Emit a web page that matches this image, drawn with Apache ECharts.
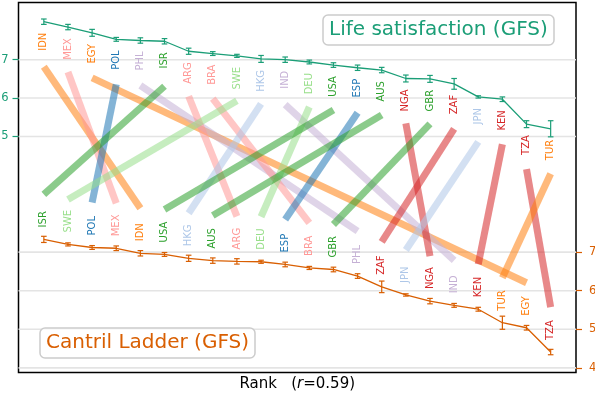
<!DOCTYPE html>
<html>
<head>
<meta charset="utf-8">
<script src="https://cdn.jsdelivr.net/npm/echarts@6/dist/echarts.min.js"></script>
<style>
html, body { margin: 0; padding: 0; background: #fff; }
#chart { width: 595px; height: 395px; }
</style>
</head>
<body>
<div id="chart"></div>
<script>
// Life satisfaction (GFS) ranking - top series, left axis
var topCountries = ['IDN', 'MEX', 'EGY', 'POL', 'PHL', 'ISR', 'ARG', 'BRA', 'SWE', 'HKG', 'IND',
  'DEU', 'USA', 'ESP', 'AUS', 'NGA', 'GBR', 'ZAF', 'JPN', 'KEN', 'TZA', 'TUR'];
var topValues = [7.99, 7.85, 7.70, 7.53, 7.50, 7.48, 7.22, 7.16, 7.10, 7.02, 7.00,
  6.94, 6.86, 6.79, 6.73, 6.51, 6.50, 6.37, 6.03, 5.97, 5.32, 5.20];
var topErrors = [0.07, 0.07, 0.09, 0.05, 0.07, 0.07, 0.08, 0.05, 0.04, 0.09, 0.07,
  0.05, 0.06, 0.07, 0.07, 0.09, 0.09, 0.14, 0.03, 0.06, 0.09, 0.21];

// Cantril Ladder (GFS) ranking - bottom series, right axis
var bottomCountries = ['ISR', 'SWE', 'POL', 'MEX', 'IDN', 'USA', 'HKG', 'AUS', 'ARG', 'DEU', 'ESP',
  'BRA', 'GBR', 'PHL', 'ZAF', 'JPN', 'NGA', 'IND', 'KEN', 'TUR', 'EGY', 'TZA'];
var bottomValues = [7.33, 7.20, 7.12, 7.10, 6.97, 6.94, 6.84, 6.78, 6.76, 6.75, 6.68,
  6.59, 6.55, 6.38, 6.10, 5.89, 5.73, 5.62, 5.52, 5.17, 5.04, 4.41];
var bottomErrors = [0.08, 0.04, 0.05, 0.06, 0.07, 0.05, 0.08, 0.07, 0.07, 0.04, 0.06,
  0.04, 0.06, 0.06, 0.15, 0.03, 0.07, 0.05, 0.05, 0.17, 0.06, 0.07];

var leftTicks = [5, 6, 7];
var rightTicks = [4, 5, 6, 7];
var correlation = 0.59;

// colours per country
var countryColor = {
  IDN: '#ff7f0e', EGY: '#ff7f0e', TUR: '#ff7f0e',
  MEX: '#ff9896', ARG: '#ff9896', BRA: '#ff9896',
  POL: '#1f77b4', ESP: '#1f77b4',
  PHL: '#c5b0d5', IND: '#c5b0d5',
  ISR: '#2ca02c', USA: '#2ca02c', AUS: '#2ca02c', GBR: '#2ca02c',
  SWE: '#98df8a', DEU: '#98df8a',
  HKG: '#aec7e8', JPN: '#aec7e8',
  NGA: '#d62728', ZAF: '#d62728', KEN: '#d62728', TZA: '#d62728'
};

var GREEN = '#1b9e77', ORANGE = '#d95f02';
var FONT = 'DejaVu Sans';

// axis ranges (the two series share the frame, each on its own axis)
var xMin = -1.05, xMax = 22.05;
var leftMin = -1.15, leftMax = 8.49;
var rightMin = 3.88, rightMax = 13.47;
function rightToLeft(v) {
  return leftMin + (v - rightMin) / (rightMax - rightMin) * (leftMax - leftMin);
}

var chart = echarts.init(document.getElementById('chart'));

function rankData(values, errors) {
  return values.map(function (v, i) { return [i, v, errors[i]]; });
}

// error bars + rotated country names
function errorBarRender(names, color, below) {
  return function (params, api) {
    var x = api.value(0), v = api.value(1), e = api.value(2);
    var hi = api.coord([x, v + e]);
    var lo = api.coord([x, v - e]);
    var c = api.coord([x, v]);
    var st = { stroke: color, lineWidth: 1.2 };
    var name = names[params.dataIndex];
    return {
      type: 'group',
      children: [
        { type: 'line', shape: { x1: hi[0], y1: hi[1], x2: lo[0], y2: lo[1] }, style: st },
        { type: 'line', shape: { x1: hi[0] - 2.8, y1: hi[1], x2: hi[0] + 2.8, y2: hi[1] }, style: st },
        { type: 'line', shape: { x1: lo[0] - 2.8, y1: lo[1], x2: lo[0] + 2.8, y2: lo[1] }, style: st },
        {
          type: 'text', x: c[0], y: below ? c[1] + 11 : c[1] - 12, rotation: Math.PI / 2,
          style: {
            text: name, fill: countryColor[name], font: '10px "' + FONT + '"',
            align: below ? 'right' : 'left', verticalAlign: 'middle'
          }
        }
      ]
    };
  };
}

// horizontal grid lines at the tick values
function gridRender(params, api) {
  var a = api.coord([xMin, api.value(0)]);
  var b = api.coord([xMax, api.value(0)]);
  return {
    type: 'line',
    shape: { x1: a[0], y1: a[1], x2: b[0], y2: b[1] },
    style: { stroke: '#e4e4e4', lineWidth: 1.6 }
  };
}

// connector: rank in the top list -> rank in the bottom list
var links = topCountries.map(function (c, i) {
  var j = bottomCountries.indexOf(c);
  return [i, topValues[i], j, rightToLeft(bottomValues[j])];
});

function yAxisOpt(min, max, pos, ticks, color, margin) {
  return {
    type: 'value', min: min, max: max, position: pos,
    axisLine: { show: false, onZero: false },
    axisTick: { show: true, length: 6, customValues: ticks, lineStyle: { color: color, width: 1.2 } },
    axisLabel: { customValues: ticks, color: color, fontFamily: FONT, fontSize: 11.5, margin: margin },
    splitLine: { show: false }
  };
}

chart.setOption({
  animation: false,
  title: [
    {
      text: 'Life satisfaction (GFS)', left: 323, top: 15,
      padding: [4, 6], borderColor: '#cccccc', borderWidth: 1.5, borderRadius: 5,
      backgroundColor: 'rgba(255,255,255,0.8)',
      textStyle: { color: GREEN, fontFamily: FONT, fontSize: 20, fontWeight: 'normal', lineHeight: 22 }
    },
    {
      text: 'Cantril Ladder (GFS)', left: 40, top: 328,
      padding: [4, 6], borderColor: '#cccccc', borderWidth: 1.5, borderRadius: 5,
      backgroundColor: 'rgba(255,255,255,0.8)',
      textStyle: { color: ORANGE, fontFamily: FONT, fontSize: 20, fontWeight: 'normal', lineHeight: 22 }
    }
  ],
  grid: {
    left: 18.5, top: 2.5, width: 557.5, height: 370,
    containLabel: false, outerBoundsMode: 'none',
    show: true, borderColor: '#000', borderWidth: 1.5, backgroundColor: 'transparent'
  },
  xAxis: {
    type: 'value', min: xMin, max: xMax,
    name: '{n|Rank   (}{i|r}{n|=' + correlation.toFixed(2) + ')}',
    nameLocation: 'middle', nameGap: 4,
    nameTextStyle: {
      rich: {
        n: { fontFamily: FONT, fontSize: 15, color: '#000' },
        i: { fontFamily: FONT, fontSize: 15, color: '#000', fontStyle: 'italic' }
      }
    },
    axisLine: { show: false, onZero: false }, axisTick: { show: false },
    axisLabel: { show: false }, splitLine: { show: false }
  },
  yAxis: [
    yAxisOpt(leftMin, leftMax, 'left', leftTicks, GREEN, 10),
    yAxisOpt(rightMin, rightMax, 'right', rightTicks, ORANGE, 13)
  ],
  series: [
    {
      type: 'custom', xAxisIndex: 0, yAxisIndex: 0, z: 0, silent: true,
      data: leftTicks.map(function (t) { return [t]; }),
      encode: { y: 0 },
      renderItem: gridRender
    },
    {
      type: 'custom', xAxisIndex: 0, yAxisIndex: 1, z: 0, silent: true,
      data: rightTicks.map(function (t) { return [t]; }),
      encode: { y: 0 },
      renderItem: gridRender
    },
    {
      type: 'custom', xAxisIndex: 0, yAxisIndex: 0, z: 1,
      encode: { x: [0, 2], y: [1, 3] },
      data: links,
      renderItem: function (params, api) {
        var p1 = api.coord([api.value(0), api.value(1)]);
        var p2 = api.coord([api.value(2), api.value(3)]);
        var c = topCountries[params.dataIndex];
        return {
          type: 'line',
          shape: { x1: p1[0], y1: p1[1] + 45, x2: p2[0], y2: p2[1] - 45 },
          style: { stroke: countryColor[c], lineWidth: 7, opacity: 0.55, lineCap: 'butt' }
        };
      }
    },
    {
      type: 'line', xAxisIndex: 0, yAxisIndex: 0, z: 3,
      data: topValues.map(function (v, i) { return [i, v]; }),
      symbol: 'none', lineStyle: { color: GREEN, width: 1.3 }
    },
    {
      type: 'custom', xAxisIndex: 0, yAxisIndex: 0, z: 4,
      data: rankData(topValues, topErrors),
      renderItem: errorBarRender(topCountries, GREEN, true)
    },
    {
      type: 'line', xAxisIndex: 0, yAxisIndex: 1, z: 3,
      data: bottomValues.map(function (v, i) { return [i, v]; }),
      symbol: 'none', lineStyle: { color: ORANGE, width: 1.3 }
    },
    {
      type: 'custom', xAxisIndex: 0, yAxisIndex: 1, z: 4,
      data: rankData(bottomValues, bottomErrors),
      renderItem: errorBarRender(bottomCountries, ORANGE, false)
    }
  ]
});
</script>
</body>
</html>
